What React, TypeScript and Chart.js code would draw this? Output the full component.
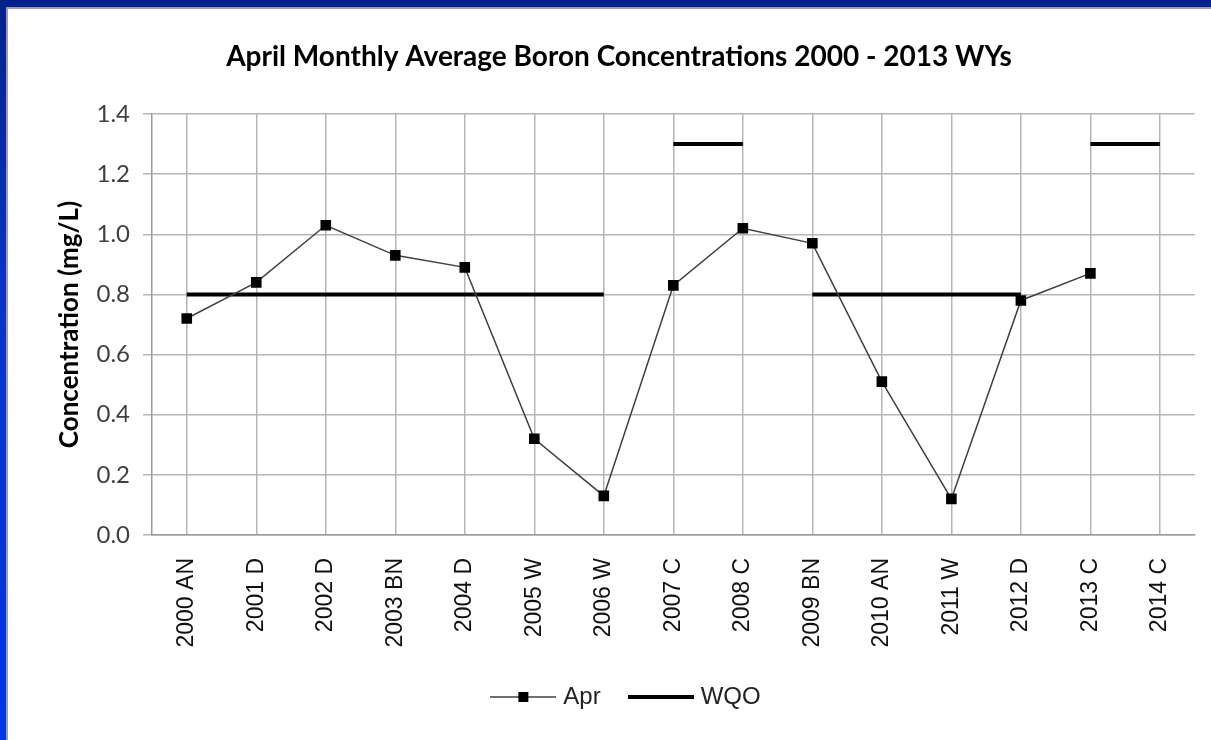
import React, { useEffect, useRef } from "react";
import { Chart, registerables } from "chart.js";

Chart.register(...registerables);

const categories = [
  "2000 AN", "2001 D", "2002 D", "2003 BN", "2004 D", "2005 W", "2006 W",
  "2007 C", "2008 C", "2009 BN", "2010 AN", "2011 W", "2012 D", "2013 C", "2014 C",
];
const aprValues: (number | null)[] = [
  0.72, 0.84, 1.03, 0.93, 0.89, 0.32, 0.13, 0.83, 1.02, 0.97, 0.51, 0.12, 0.78, 0.87, null,
];
const wqoValues = [0.8, 0.8, 0.8, 0.8, 0.8, 0.8, 0.8, 1.3, 1.3, 0.8, 0.8, 0.8, 0.8, 1.3, 1.3];
const titleText = "April Monthly Average Boron Concentrations 2000 - 2013 WYs";
const yTitle = "Concentration (mg/L)";

function makeAprIcon(): HTMLCanvasElement {
  const c = document.createElement("canvas");
  c.width = 66;
  c.height = 14;
  const g = c.getContext("2d")!;
  g.strokeStyle = "#404040";
  g.lineWidth = 1.5;
  g.beginPath();
  g.moveTo(0, 7);
  g.lineTo(66, 7);
  g.stroke();
  g.fillStyle = "#000";
  g.fillRect(28, 2, 10, 10);
  return c;
}
function makeWqoIcon(): HTMLCanvasElement {
  const c = document.createElement("canvas");
  c.width = 66;
  c.height = 6;
  const g = c.getContext("2d")!;
  g.fillStyle = "#000";
  g.fillRect(0, 1, 66, 4);
  return c;
}

const legendShift = {
  id: "legendShift",
  afterLayout(chart: any) {
    if (chart.legend) {
      chart.legend.left += 9;
      chart.legend.right += 9;
    }
  },
};

export default function App() {
  const ref = useRef<HTMLCanvasElement | null>(null);
  useEffect(() => {
    if (!ref.current) return;
    const aprIcon = makeAprIcon();
    const wqoIcon = makeWqoIcon();
    const chart = new Chart(ref.current, {
      type: "line",
      data: {
        labels: categories,
        datasets: [
          {
            label: "Apr",
            data: aprValues,
            borderColor: "#404040",
            borderWidth: 1.5,
            pointStyle: "rect",
            pointRadius: 7.5,
            pointBackgroundColor: "#000",
            pointBorderColor: "#000",
            pointBorderWidth: 0,
            spanGaps: false,
            order: 0,
          },
          {
            label: "WQO",
            data: wqoValues,
            borderColor: "#000",
            borderWidth: 4,
            borderCapStyle: "butt",
            pointRadius: 0,
            order: 1,
            segment: {
              borderColor: (ctx: any) =>
                ctx.p0.parsed.y !== ctx.p1.parsed.y ? "rgba(0,0,0,0)" : "#000",
            },
          },
        ],
      },
      plugins: [legendShift],
      options: {
        animation: false,
        responsive: false,
        maintainAspectRatio: false,
        layout: { padding: { left: 33, right: 15, top: 0, bottom: 21 } },
        plugins: {
          title: {
            display: true,
            text: titleText,
            color: "#000",
            font: { family: "Lato", size: 28, weight: "bold" },
            padding: { top: 30.2, bottom: 40.2 },
          },
          legend: {
            display: true,
            position: "bottom",
            labels: {
              usePointStyle: true,
              pointStyleWidth: 56,
              color: "#222",
              font: { family: "Liberation Sans", size: 24 },
              padding: 32,
              generateLabels: (ch: any) => {
                const items = Chart.defaults.plugins.legend.labels.generateLabels(ch);
                items.forEach((it: any, i: number) => {
                  it.pointStyle = i === 0 ? aprIcon : wqoIcon;
                });
                return items;
              },
            },
          },
          tooltip: { enabled: false },
        },
        scales: {
          x: {
            type: "category",
            offset: true,
            afterFit: (s: any) => {
              s.height = 118;
            },
            grid: {
              offset: false,
              color: "#b5b5b5",
              lineWidth: 1.5,
              drawTicks: false,
            },
            border: { display: true, color: "#9a9a9a", width: 1.5 },
            ticks: {
              autoSkip: false,
              minRotation: 90,
              maxRotation: 90,
              padding: 23,
              color: "#111",
              font: { family: "Liberation Sans", size: 23 },
            },
          },
          y: {
            min: 0,
            max: 1.4,
            afterFit: (s: any) => {
              s.width = 110;
            },
            grid: {
              color: "#b5b5b5",
              lineWidth: 1.5,
              drawTicks: true,
              tickLength: 9,
            },
            border: { display: true, color: "#9a9a9a", width: 1.5 },
            ticks: {
              stepSize: 0.2,
              padding: 13,
              color: "#404040",
              font: { family: "Lato", size: 24 },
              callback: (v: any) => Number(v).toFixed(1),
            },
            title: {
              display: true,
              text: yTitle,
              color: "#000",
              font: { family: "Lato", size: 26, weight: "bold" },
              padding: { top: 12, bottom: 0 },
            },
          },
        },
      },
    });
    return () => chart.destroy();
  }, []);

  return (
    <div
      style={{
        position: "fixed",
        left: 0,
        top: 0,
        width: 1211,
        height: 740,
        background: "#fff",
        overflow: "hidden",
      }}
    >
      <div style={{ position: "absolute", left: 0, top: 0, width: 1211, height: 7, background: "#03218c" }} />
      <div style={{ position: "absolute", left: 0, top: 7, width: 1211, height: 2, background: "#9c9cac" }} />
      <div
        style={{
          position: "absolute",
          left: 0,
          top: 0,
          width: 6,
          height: 740,
          background: "linear-gradient(#03218c, #0a34c8 40%, #0036e6)",
        }}
      />
      <div style={{ position: "absolute", left: 6, top: 9, width: 2, height: 731, background: "#9c9cac" }} />
      <canvas
        ref={ref}
        width={1202}
        height={730}
        style={{ position: "absolute", left: 9, top: 10, width: 1202, height: 730 }}
      />
    </div>
  );
}
